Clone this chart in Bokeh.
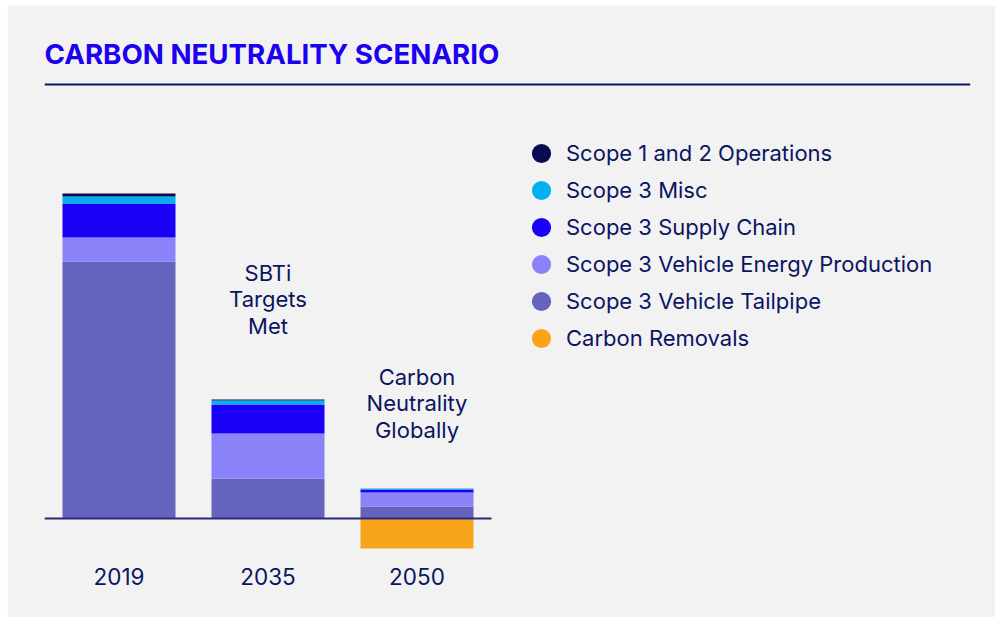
from bokeh.plotting import figure
from bokeh.models import (Range1d, LinearAxis, FixedTicker, Label, Legend, LegendItem,
                          ColumnDataSource, Span)
from bokeh.embed import file_html
from bokeh.resources import INLINE

# ---- data (relative emissions index) ----
years = ["2019", "2035", "2050"]
scope12_operations = [3, 1, 0]
scope3_misc = [7, 4, 1]
scope3_supply_chain = [34, 29, 3]
scope3_vehicle_energy = [24, 45, 14]
scope3_vehicle_tailpipe = [257, 40, 12]
carbon_removals = [0, 0, -30]

legend_names = ["Scope 1 and 2 Operations", "Scope 3 Misc", "Scope 3 Supply Chain",
                "Scope 3 Vehicle Energy Production", "Scope 3 Vehicle Tailpipe",
                "Carbon Removals"]
legend_colors = ["#0a0a52", "#00b0f0", "#1a00f5", "#8c82fa", "#6464be", "#f9a51c"]

annotations = [("SBTi\nTargets\nMet", 1, 219), ("Carbon\nNeutrality\nGlobally", 2, 115)]

NAVY = "#0b1560"
BG = "#f2f2f2"
FONT = "Inter"

W, H = 988, 612
LEFT, RIGHT, TOP, BOTTOM = 37, 25, 15, 57
frame_w = W - LEFT - RIGHT
frame_h = H - TOP - BOTTOM
slot = 149.0
y_min = -42

p = figure(width=W, height=H, output_backend="svg", toolbar_location=None,
           x_range=Range1d(0, frame_w / slot), y_range=Range1d(y_min, frame_h + y_min),
           x_axis_location=None, y_axis_location=None,
           min_border_left=LEFT, min_border_right=RIGHT,
           min_border_top=TOP, min_border_bottom=BOTTOM,
           background_fill_color=BG, border_fill_color=BG,
           margin=(5, 0, 0, 7))
p.outline_line_color = None
p.grid.visible = False

xpos = [i + 0.5 for i in range(len(years))]
src = ColumnDataSource(dict(
    x=xpos,
    tailpipe=scope3_vehicle_tailpipe,
    energy=scope3_vehicle_energy,
    supply=scope3_supply_chain,
    misc=scope3_misc,
    ops=scope12_operations,
    removals=carbon_removals,
    zero=[0] * len(years),
))
stack_keys = ["tailpipe", "energy", "supply", "misc", "ops"]
stack_colors = ["#6464be", "#8c82fa", "#1a00f5", "#00b0f0", "#0a0a52"]
bar_w = 113 / slot
p.vbar_stack(stack_keys, x="x", width=bar_w, color=stack_colors, line_color=None, source=src)
p.vbar(x="x", top="zero", bottom="removals", width=bar_w, color="#f9a51c", line_color=None, source=src)

# baseline
p.segment(x0=[0], x1=[len(years)], y0=[0], y1=[0], line_color="#2a2a78", line_width=2)

# x axis (years)
xa = LinearAxis(ticker=FixedTicker(ticks=xpos),
                major_label_overrides={x: y for x, y in zip(xpos, years)})
xa.axis_line_color = None
xa.major_tick_line_color = None
xa.minor_tick_line_color = None
xa.major_tick_out = 0
xa.major_label_standoff = 7
xa.major_label_text_font = FONT
xa.major_label_text_font_size = "22.5px"
xa.major_label_text_color = NAVY
p.add_layout(xa, "below")

# title and rule
p.add_layout(Label(x=0, y=518 - 53, text="CARBON NEUTRALITY SCENARIO",
                   text_font=FONT, text_font_size="27.7px", text_font_style="bold",
                   text_color="#1c00f0", text_baseline="middle", text_align="left"))
p.add_layout(Span(location=518 - 84, dimension="width", line_color=NAVY, line_width=2))

# annotations
for txt, idx, yv in annotations:
    p.add_layout(Label(x=xpos[idx], y=yv, text=txt, text_font=FONT, text_font_size="22px",
                       text_color=NAVY, text_align="center", text_baseline="middle",
                       text_line_height=1.02))

# legend
items = []
nan = float("nan")
for name, c in zip(legend_names, legend_colors):
    r = p.ellipse(x=[nan], y=[nan], width=10, height=10, width_units="screen",
                  height_units="screen", fill_color=c, line_color=None)
    items.append(LegendItem(label=name, renderers=[r]))
leg = Legend(items=items, location=(485, 209), glyph_width=24, glyph_height=24,
             spacing=11, padding=0, margin=0, label_standoff=13,
             label_text_font=FONT, label_text_font_size="22px", label_text_color=NAVY,
             label_text_baseline="middle", label_height=24,
             background_fill_alpha=0, border_line_color=None)
p.add_layout(leg, "center")

open("out.html", "w").write(file_html(p, INLINE))
